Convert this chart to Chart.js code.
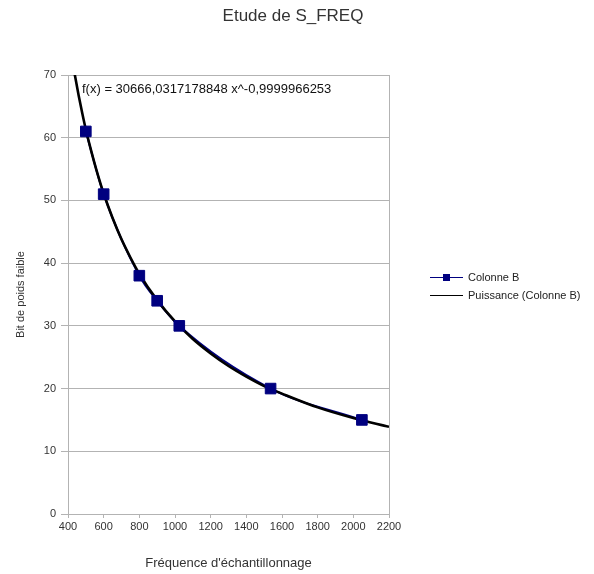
<!DOCTYPE html>
<html lang="fr">
<head>
<meta charset="UTF-8">
<title>Etude de S_FREQ</title>
<script src="https://cdn.jsdelivr.net/npm/chart.js"></script>
<style>
    body { margin: 0; padding: 0; background: #ffffff; }
</style>
</head>
<body>
<canvas id="freqChart" width="594" height="574"></canvas>
<script>
    // measured points (Colonne B)
    const frequencies = [500, 600, 800, 900, 1024, 1536, 2048];
    const lowBits = [61, 51, 38, 34, 30, 20, 15];

    // power trend curve
    const trendX = [430, 460, 480, 500, 530, 560, 600, 650, 700, 750, 800, 900, 1000, 1100, 1200, 1300, 1400, 1500, 1600, 1800, 2000, 2200];
    const trendY = [71.3, 66.7, 63.9, 61.3, 57.9, 54.8, 51.1, 47.2, 43.8, 40.9, 38.3, 34.1, 30.7, 27.9, 25.6, 23.6, 21.9, 20.4, 19.2, 17.0, 15.3, 13.9];
    const trendEquation = 'f(x) = 30666,0317178848 x^-0,9999966253';

    const chartTitle = 'Etude de S_FREQ';
    const seriesName = 'Colonne B';
    const trendName = 'Puissance (Colonne B)';
    const xTitle = "Fréquence d'échantillonnage";
    const yTitle = 'Bit de poids faible';
    const xRange = [400, 2200, 200];
    const yRange = [0, 70, 10];

    const FONT = "'Liberation Sans', Arial, sans-serif";
    const GRID = '#b3b3b3';
    const NAVY = '#000080';

    const seriesPoints = frequencies.map((x, i) => ({ x: x, y: lowBits[i] }));

    // title, plot frame, equation and legend
    const decorations = {
        id: 'decorations',
        beforeDatasetsDraw(chart) {
            const { ctx, chartArea: a } = chart;
            ctx.save();
            ctx.strokeStyle = GRID;
            ctx.lineWidth = 1;
            ctx.strokeRect(a.left + 0.5, a.top + 0.5, a.right - a.left, a.bottom - a.top);
            ctx.restore();
        },
        afterDraw(chart) {
            const { ctx, chartArea: a } = chart;
            ctx.save();
            ctx.fillStyle = '#333333';
            ctx.textBaseline = 'middle';

            ctx.font = '17px ' + FONT;
            ctx.textAlign = 'center';
            ctx.fillText(chartTitle, 293, 16);

            ctx.font = '13px ' + FONT;
            ctx.textAlign = 'left';
            ctx.fillStyle = '#111111';
            ctx.fillText(trendEquation, a.left + 14, a.top + 14);

            // legend
            const midY = (a.top + a.bottom) / 2;
            const lx = a.right + 41;
            ctx.font = '11px ' + FONT;
            ctx.fillStyle = '#222222';
            const rows = [
                { y: midY - 17, color: NAVY, marker: true, text: seriesName },
                { y: midY + 1, color: '#000000', marker: false, text: trendName }
            ];
            rows.forEach(r => {
                ctx.strokeStyle = r.color;
                ctx.lineWidth = 1.2;
                ctx.beginPath();
                ctx.moveTo(lx, r.y);
                ctx.lineTo(lx + 33, r.y);
                ctx.stroke();
                if (r.marker) {
                    ctx.fillStyle = NAVY;
                    ctx.fillRect(lx + 13, r.y - 3.5, 7, 7);
                    ctx.fillStyle = '#222222';
                }
                ctx.fillText(r.text, lx + 38, r.y);
            });
            ctx.restore();
        }
    };

    const ctx = document.getElementById('freqChart').getContext('2d');
    new Chart(ctx, {
        type: 'scatter',
        data: {
            datasets: [{
                // markers on top
                label: seriesName,
                data: seriesPoints,
                showLine: false,
                backgroundColor: NAVY,
                borderColor: NAVY,
                pointStyle: 'rect',
                pointRadius: 7.5,
                pointHoverRadius: 7.5,
                order: 0
            }, {
                label: trendName,
                data: trendX.map((x, i) => ({ x: x, y: trendY[i] })),
                showLine: true,
                borderColor: '#000000',
                borderWidth: 2.6,
                pointRadius: 0,
                cubicInterpolationMode: 'monotone',
                order: 1
            }, {
                // smoothed series line, mostly hidden under the trend
                label: seriesName + ' line',
                data: seriesPoints,
                showLine: true,
                borderColor: NAVY,
                borderWidth: 2,
                pointRadius: 0,
                cubicInterpolationMode: 'monotone',
                order: 2
            }]
        },
        options: {
            responsive: false,
            animation: false,
            layout: { padding: { top: 75, right: 205, left: 0, bottom: 0 } },
            plugins: {
                legend: { display: false },
                title: { display: false },
                tooltip: { enabled: false }
            },
            scales: {
                x: {
                    type: 'linear',
                    min: xRange[0],
                    max: xRange[1],
                    afterFit(scale) { scale.height = 60; },
                    ticks: {
                        stepSize: xRange[2],
                        color: '#333333',
                        font: { family: FONT, size: 11 },
                        padding: 2,
                        maxRotation: 0,
                        callback: v => String(v)
                    },
                    grid: { drawOnChartArea: false, drawTicks: true, tickLength: 4, color: GRID },
                    border: { color: GRID },
                    title: {
                        display: true,
                        text: xTitle,
                        color: '#333333',
                        font: { family: FONT, size: 13 },
                        padding: { top: 0, bottom: 3 }
                    }
                },
                y: {
                    type: 'linear',
                    min: yRange[0],
                    max: yRange[1],
                    afterFit(scale) { scale.width = 68; },
                    ticks: {
                        stepSize: yRange[2],
                        color: '#333333',
                        font: { family: FONT, size: 11 },
                        padding: 5
                    },
                    grid: { drawTicks: true, tickLength: 7, color: GRID },
                    border: { color: GRID },
                    title: {
                        display: true,
                        text: yTitle,
                        color: '#333333',
                        font: { family: FONT, size: 11 },
                        padding: { top: 14, bottom: 0 }
                    }
                }
            }
        },
        plugins: [decorations]
    });
</script>
</body>
</html>
